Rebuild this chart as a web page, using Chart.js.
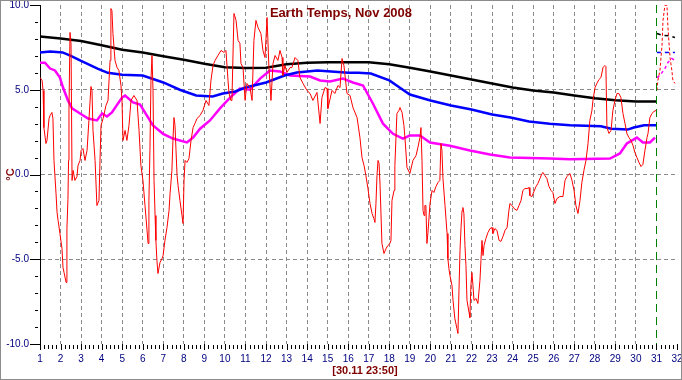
<!DOCTYPE html>
<html>
<head>
<meta charset="utf-8">
<script src="https://cdn.jsdelivr.net/npm/chart.js@4.4.0/dist/chart.umd.min.js"></script>
<style>
    html, body { margin: 0; padding: 0; background: #fff; }
</style>
</head>
<body>
<canvas id="myChart" width="682" height="380"></canvas>
<script>
// chart texts
var titleText = "Earth Temps, Nov 2008";
var stampText = "[30.11 23:50]";
var unitText = "°C";

// raw temperature (red), day of month / degrees
var redDays = [1.00,1.10,1.15,1.19,1.29,1.34,1.44,1.49,1.58,1.63,1.68,1.78,1.83,1.88,1.97,2.07,2.12,2.17,2.27,2.31,2.36,2.39,2.41,2.46,2.51,2.56,2.61,2.70,2.80,2.85,2.95,3.00,3.09,3.19,3.29,3.38,3.48,3.53,3.58,3.68,3.77,3.87,3.92,3.97,4.07,4.21,4.31,4.41,4.45,4.50,4.55,4.65,4.75,4.84,4.94,4.99,5.04,5.14,5.23,5.33,5.43,5.57,5.72,5.82,5.91,6.01,6.11,6.21,6.26,6.30,6.35,6.40,6.45,6.50,6.55,6.60,6.64,6.69,6.74,6.84,6.94,6.99,7.08,7.18,7.28,7.33,7.42,7.47,7.52,7.57,7.62,7.67,7.72,7.81,7.91,7.96,8.01,8.06,8.15,8.25,8.35,8.45,8.54,8.64,8.79,8.93,9.08,9.22,9.32,9.42,9.52,9.66,9.81,9.95,10.05,10.15,10.20,10.29,
    10.34,10.44,10.54,10.64,10.73,10.78,10.88,10.98,11.07,11.22,11.32,11.41,11.51,11.61,11.75,11.85,11.95,12.05,12.14,12.24,12.34,12.44,12.58,12.68,12.78,12.82,12.92,13.02,13.17,13.26,13.41,13.55,13.65,13.80,13.99,14.14,14.28,14.48,14.63,14.72,14.87,14.97,15.01,15.21,15.35,15.50,15.60,15.70,15.79,15.94,16.09,16.23,16.43,16.57,16.67,16.77,16.86,16.96,17.06,17.16,17.25,17.30,17.35,17.40,17.45,17.50,17.55,17.64,17.74,17.84,17.93,18.03,18.08,18.13,18.23,18.27,18.37,18.47,18.52,18.62,18.71,18.76,18.86,19.00,19.15,19.30,19.39,19.49,
    19.54,19.59,19.64,19.69,19.73,19.78,19.83,19.88,19.98,20.08,20.17,20.27,20.37,20.46,20.51,20.56,20.61,20.71,20.81,20.85,20.90,20.95,21.05,21.10,21.19,21.29,21.34,21.39,21.44,21.49,21.54,21.58,21.63,21.68,21.73,21.78,21.88,21.92,21.97,22.02,22.07,22.12,22.22,22.31,22.41,22.46,22.51,22.56,22.61,22.70,22.80,22.90,23.00,23.04,23.14,23.24,23.34,23.43,23.53,23.63,23.73,23.82,23.87,23.97,24.07,24.21,24.31,24.41,24.50,24.60,24.70,24.80,24.84,24.94,25.04,25.14,25.23,25.33,25.43,25.48,25.57,25.67,25.77,25.87,25.96,26.06,26.16,26.30,26.45,26.55,26.64,26.79,
    26.89,26.99,27.08,27.18,27.28,27.37,27.47,27.57,27.67,27.76,27.86,27.91,28.01,28.10,28.20,28.30,28.40,28.49,28.54,28.59,28.69,28.79,28.88,28.98,29.08,29.17,29.27,29.37,29.47,29.56,29.66,29.76,29.86,29.95,30.05,30.15,30.25,30.34,30.44,30.54,30.59,30.68,30.78,30.88,30.98];
var redTemps = [5.72,5.55,4.96,2.77,1.83,2.01,3.30,3.48,3.66,3.30,0.83,-1.12,-2.24,-2.71,-3.48,-4.37,-5.49,-5.78,-6.37,-3.19,-1.47,0.83,3.78,8.38,7.73,-0.35,0.24,-0.35,-0.12,0.53,0.83,1.42,1.53,0.83,1.42,3.19,5.19,4.96,2.60,0.83,-1.83,-1.53,0.83,2.89,3.30,4.07,4.37,6.73,9.79,9.68,8.32,6.73,6.31,6.14,5.25,4.37,2.01,2.60,2.01,2.89,4.37,4.66,4.37,2.60,0.53,-0.35,-1.83,-3.30,-4.07,-1.53,1.42,5.55,7.02,4.96,-0.35,-2.42,-3.89,-5.07,-5.84,-5.19,-4.96,-4.78,-3.89,-3.13,-2.12,-1.12,0.24,2.01,3.36,2.89,1.42,-0.06,-0.65,-1.53,-2.42,-2.89,-0.35,0.83,0.71,0.94,2.01,2.77,3.01,3.30,3.48,3.78,4.37,4.07,5.55,6.43,6.73,7.02,7.32,7.20,7.32,5.55,4.78,4.37,
    4.37,9.50,9.09,7.91,7.73,6.55,6.31,4.37,5.37,5.13,4.37,7.91,9.09,8.67,8.32,7.32,6.90,9.26,6.31,4.37,6.55,7.02,6.73,7.32,6.90,5.84,6.43,6.02,6.31,6.31,6.90,6.73,5.72,5.37,4.96,4.78,4.37,4.84,3.01,4.54,5.13,5.07,3.89,4.96,4.78,5.25,5.13,6.84,6.43,4.78,4.66,3.95,3.36,2.18,1.00,0.53,-0.06,-0.83,-1.71,-2.30,-2.60,-2.83,-1.71,-0.06,0.83,0.65,-0.65,-4.07,-4.66,-4.37,-4.19,-4.07,-3.89,-1.53,-0.94,0.53,3.60,3.78,3.95,3.66,2.89,2.18,0.41,0.06,0.83,1.12,1.59,2.18,
    2.77,0.83,-2.12,-2.42,-1.83,-1.83,-4.07,-3.42,-1.71,-0.94,-1.06,-0.71,-0.47,-0.35,1.83,1.42,-0.24,-1.83,-3.48,-4.96,-5.55,-5.96,-6.55,-7.43,-8.50,-9.09,-9.38,-6.84,-4.48,-3.13,-2.12,-1.95,-2.30,-4.19,-5.37,-7.43,-8.14,-8.44,-6.55,-5.78,-6.55,-7.43,-7.32,-7.61,-6.25,-5.07,-3.89,-4.78,-4.19,-3.78,-3.42,-3.19,-3.13,-3.48,-3.19,-3.30,-3.89,-3.95,-3.66,-3.30,-3.13,-2.12,-1.71,-1.83,-2.01,-2.12,-1.83,-1.53,-0.94,-0.83,-0.83,-0.77,-1.24,-1.30,-1.00,-0.71,-0.53,-0.24,0.06,0.12,-0.06,-0.24,-0.71,-0.94,-1.06,-1.71,-1.42,-1.30,-1.30,-0.35,-0.12,0.06,
    -0.35,-0.94,-1.83,-2.30,-1.53,-0.47,0.24,0.83,1.83,3.19,3.78,4.37,5.13,5.37,5.60,5.72,6.31,6.43,6.37,2.77,2.42,2.60,3.78,4.37,4.78,4.78,4.54,3.60,3.01,2.42,2.18,2.01,1.71,1.30,1.00,0.71,0.47,0.59,1.42,2.18,2.42,3.36,3.60,3.72,3.78];

// smoothed averages
var blackDays = [1,2,3,4,5,6,7,8,9,10,11,12,13,14,15,16,17,18,19,20,21,22,23,24,25,26,27,28,29,30,31];
var blackTemps = [8.14,8.02,7.88,7.62,7.36,7.2,6.98,6.77,6.53,6.33,6.28,6.3,6.5,6.6,6.62,6.62,6.62,6.5,6.3,6.08,5.84,5.6,5.37,5.13,4.96,4.84,4.66,4.5,4.38,4.31,4.31];

var blueDays = [1,1.5,2.1,2.5,3.0,3.8,4.3,5.0,6.0,7.0,7.8,8.6,9.4,9.9,10.5,11.0,12.0,12.9,13.5,14.5,16.0,16.5,17.1,18.0,18.5,19.0,20.0,21,22,23,23.9,24.8,25.8,26.8,28.3,28.8,29.6,29.9,30.4,31];
var blueTemps = [7.2,7.26,7.2,7.0,6.7,6.25,6.0,5.88,5.84,5.43,5.0,4.66,4.6,4.78,4.9,5.13,5.43,5.84,6.02,6.14,6.0,6.0,5.96,5.55,5.13,4.72,4.37,4.07,3.83,3.54,3.36,3.13,3.0,2.9,2.85,2.7,2.65,2.77,2.9,2.9];

var pinkDays = [1.0,1.24,1.49,1.73,1.97,2.12,2.36,2.56,2.95,3.34,3.77,4.02,4.26,4.5,4.99,5.14,5.53,5.87,6.5,6.99,7.47,8.15,8.45,8.79,9.27,9.76,10.25,10.73,11.22,11.71,12.19,12.68,13.17,14.14,14.63,15.11,15.74,16.23,16.72,17.2,17.69,18.18,18.66,19.0,19.49,19.98,20.95,21.92,22.9,23.87,25.82,26.79,28.74,29.22,29.56,30.05,30.34,30.68,30.93];
var pinkTemps = [6.6,6.6,6.25,6.14,5.72,5.13,4.37,3.9,3.6,3.3,3.19,3.6,3.42,3.66,4.54,4.66,4.25,4.13,2.89,2.4,2.12,1.89,2.18,2.7,3.19,3.9,4.54,5.07,5.0,5.66,6.14,6.08,5.84,5.78,5.55,5.49,5.66,5.43,5.25,4.19,3.0,2.4,2.12,2.3,2.3,1.89,1.7,1.42,1.18,1.0,0.94,0.9,0.94,1.24,1.83,2.18,1.89,1.89,2.18];

// dashed part after the 31st
var nextRedDays = [31.02,31.07,31.17,31.27,31.32,31.41,31.51,31.56,31.66,31.75,31.80,31.90];
var nextRedTemps = [4.96,5.55,6.14,7.61,9.09,9.97,10.0,8.67,6.90,6.14,5.55,5.37];
var nextBlackDays = [31.02,31.3,31.6,31.9];
var nextBlackTemps = [8.32,8.2,8.18,8.08];
var nextBlueDays = [31.02,31.9];
var nextBlueTemps = [7.2,7.2];
var nextPinkDays = [31.02,31.17,31.41,31.56,31.75,31.9];
var nextPinkTemps = [5.72,5.84,6.25,6.61,6.84,6.73];

function pts(days, temps) {
    return days.map(function (d, i) { return {x: d, y: temps[i]}; });
}

function line(days, temps, color, width, dash) {
    return {
        data: pts(days, temps),
        borderColor: color,
        borderWidth: width,
        borderDash: dash || [],
        pointRadius: 0,
        tension: 0,
        fill: false
    };
}

var smallFont = {family: "'Liberation Sans Narrow', 'Liberation Sans', Arial", size: 10};

var extras = {
    id: 'extras',
    beforeDraw: function (chart) {
        var c = chart.ctx;
        c.save();
        c.fillStyle = '#fff';
        c.fillRect(0, 0, chart.width, chart.height);
        c.restore();
    },
    afterDraw: function (chart) {
        var c = chart.ctx, a = chart.chartArea;
        var xs = chart.scales.x, ys = chart.scales.y;
        c.save();
        // tick marks, long on the round values
        c.strokeStyle = '#000';
        c.lineWidth = 1;
        c.beginPath();
        for (var v = -10; v <= 10; v++) {
            var y = Math.round(ys.getPixelForValue(v)) + 0.5;
            if (v % 5 === 0) { c.moveTo(a.left - 10, y); c.lineTo(a.left, y); }
            else { c.moveTo(a.left - 5, y); c.lineTo(a.left - 2, y); }
        }
        for (var i = 0; i <= 155; i++) {
            var x = Math.round(xs.getPixelForValue(1 + i / 5)) + 0.5;
            c.moveTo(x, a.bottom + (i % 5 ? 1 : 0));
            c.lineTo(x, a.bottom + (i % 5 ? 5 : 6));
        }
        c.stroke();
        // end of month marker
        var gx = Math.round(xs.getPixelForValue(31)) + 0.5;
        c.strokeStyle = '#008000';
        c.setLineDash([8, 5]);
        c.beginPath();
        c.moveTo(gx, a.top);
        c.lineTo(gx, a.bottom);
        c.stroke();
        c.setLineDash([]);
        // texts
        c.fillStyle = '#800000';
        c.textAlign = 'center';
        c.textBaseline = 'middle';
        c.font = "bold 13px 'Liberation Sans', Arial";
        c.fillText(titleText, chart.width / 2, 13);
        c.font = "bold 11px 'Liberation Sans', Arial";
        c.fillText(stampText, 365, 371);
        // frame
        c.strokeStyle = '#8c8c8c';
        c.strokeRect(0.5, 0.5, chart.width - 1, chart.height - 1);
        c.restore();
    }
};

var ctx = document.getElementById("myChart").getContext("2d");
var chartObj = new Chart(ctx, {
    type: 'line',
    data: {
        datasets: [
            line(redDays, redTemps, '#ff0000', 1),
            line(nextRedDays, nextRedTemps, '#ff0000', 1, [3, 2]),
            line(blackDays, blackTemps, '#000000', 2.5),
            line(nextBlackDays, nextBlackTemps, '#000000', 1.5, [4, 4]),
            line(blueDays, blueTemps, '#0000ff', 2.5),
            line(nextBlueDays, nextBlueTemps, '#0000ff', 1.5, [4, 4]),
            line(pinkDays, pinkTemps, '#ff00ff', 2.5),
            line(nextPinkDays, nextPinkTemps, '#ff00ff', 1.5, [3, 3])
        ]
    },
    options: {
        responsive: false,
        animation: false,
        devicePixelRatio: 1,
        layout: {padding: {top: 5, right: 5, left: 0, bottom: 0}},
        plugins: {legend: {display: false}, tooltip: {enabled: false}},
        scales: {
            x: {
                type: 'linear',
                min: 1,
                max: 32,
                afterFit: function (s) { s.height = 36; s.paddingLeft = 0; s.paddingRight = 0; },
                ticks: {
                    stepSize: 1,
                    autoSkip: false,
                    maxRotation: 0,
                    color: '#000080',
                    font: smallFont,
                    padding: 9
                },
                grid: {
                    drawTicks: false,
                    lineWidth: 1,
                    color: function (c) {
                        var v = c.tick ? c.tick.value : 0;
                        return (v > 1 && v < 31) ? '#8a8a8a' : 'rgba(0,0,0,0)';
                    }
                },
                border: {display: false, dash: [4, 3]}
            },
            y: {
                min: -10,
                max: 10,
                afterFit: function (s) { s.width = 40; s.paddingTop = 0; s.paddingBottom = 0; },
                ticks: {
                    stepSize: 1,
                    autoSkip: false,
                    color: '#000080',
                    font: smallFont,
                    padding: 11,
                    callback: function (v) { return v % 5 === 0 ? v.toFixed(1) : ''; }
                },
                title: {
                    display: true,
                    text: unitText,
                    color: '#800000',
                    font: {family: "'Liberation Sans', Arial", size: 11, weight: 'bold'},
                    padding: {top: 4, bottom: 0}
                },
                grid: {
                    drawTicks: false,
                    lineWidth: 1,
                    color: function (c) {
                        var v = c.tick ? c.tick.value : 0;
                        return (v === 5 || v === 0 || v === -5) ? '#8a8a8a' : 'rgba(0,0,0,0)';
                    }
                },
                border: {display: true, color: '#000000', width: 1, dash: [4, 3]}
            }
        }
    },
    plugins: [extras]
});
</script>
</body>
</html>
